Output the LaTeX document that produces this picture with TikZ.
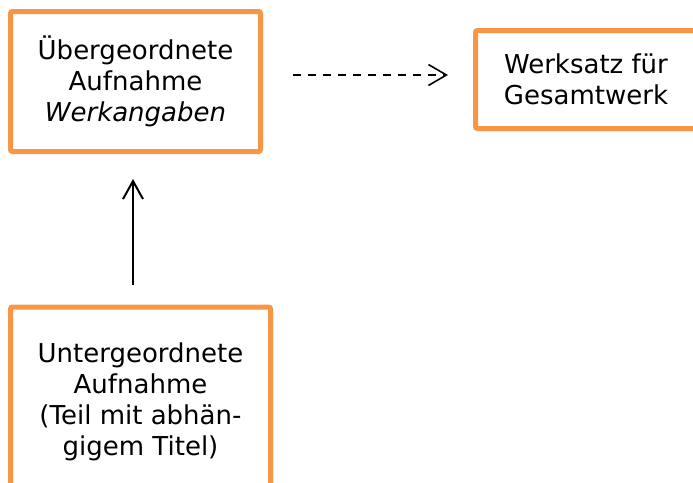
\documentclass[tikz,border=0pt]{standalone}
\usepackage{fontspec}
\setmainfont{DejaVu Sans}
\usetikzlibrary{arrows.meta}
\definecolor{boxorange}{HTML}{F79646}
\tikzset{
  recbox/.style={draw=boxorange, line width=5pt, rounded corners=2pt, fill=white,
    rectangle, outer sep=0pt, inner sep=0pt, align=center,
    font=\fontsize{26}{31}\selectfont},
  link/.style={line width=2pt, -{Straight Barb[length=18pt,width=20pt,line width=2pt]}},
  dlink/.style={line width=1.6pt, dash pattern=on 8pt off 7pt,
    -{Straight Barb[length=18pt,width=21pt,line width=1.6pt]}}
}
\begin{document}
\begin{tikzpicture}[x=1pt,y=-1pt]
\useasboundingbox (0,0) rectangle (693,482);
\node[recbox, minimum width=250pt, minimum height=140pt] (top) at (135.5,81.5)
  {Übergeordnete\\Aufnahme\\\textit{Werkangaben}};
\node[recbox, minimum width=221pt, minimum height=98pt] (werk) at (586,79.5)
  {Werksatz für\\Gesamtwerk};
\node[recbox, minimum width=260pt, minimum height=190pt] (bot) at (140.5,402)
  {Untergeordnete\\Aufnahme\\(Teil mit abhän-\\gigem Titel)};
\draw[link, shorten <=22.5pt, shorten >=27.5pt]
  ([xshift=-7.5pt]bot.north) -- ([xshift=-2.5pt]top.south);
\draw[dlink, shorten <=32.5pt, shorten >=27.5pt]
  ([yshift=6.5pt]top.east) -- ([yshift=4.5pt]werk.west);
\end{tikzpicture}
\end{document}
